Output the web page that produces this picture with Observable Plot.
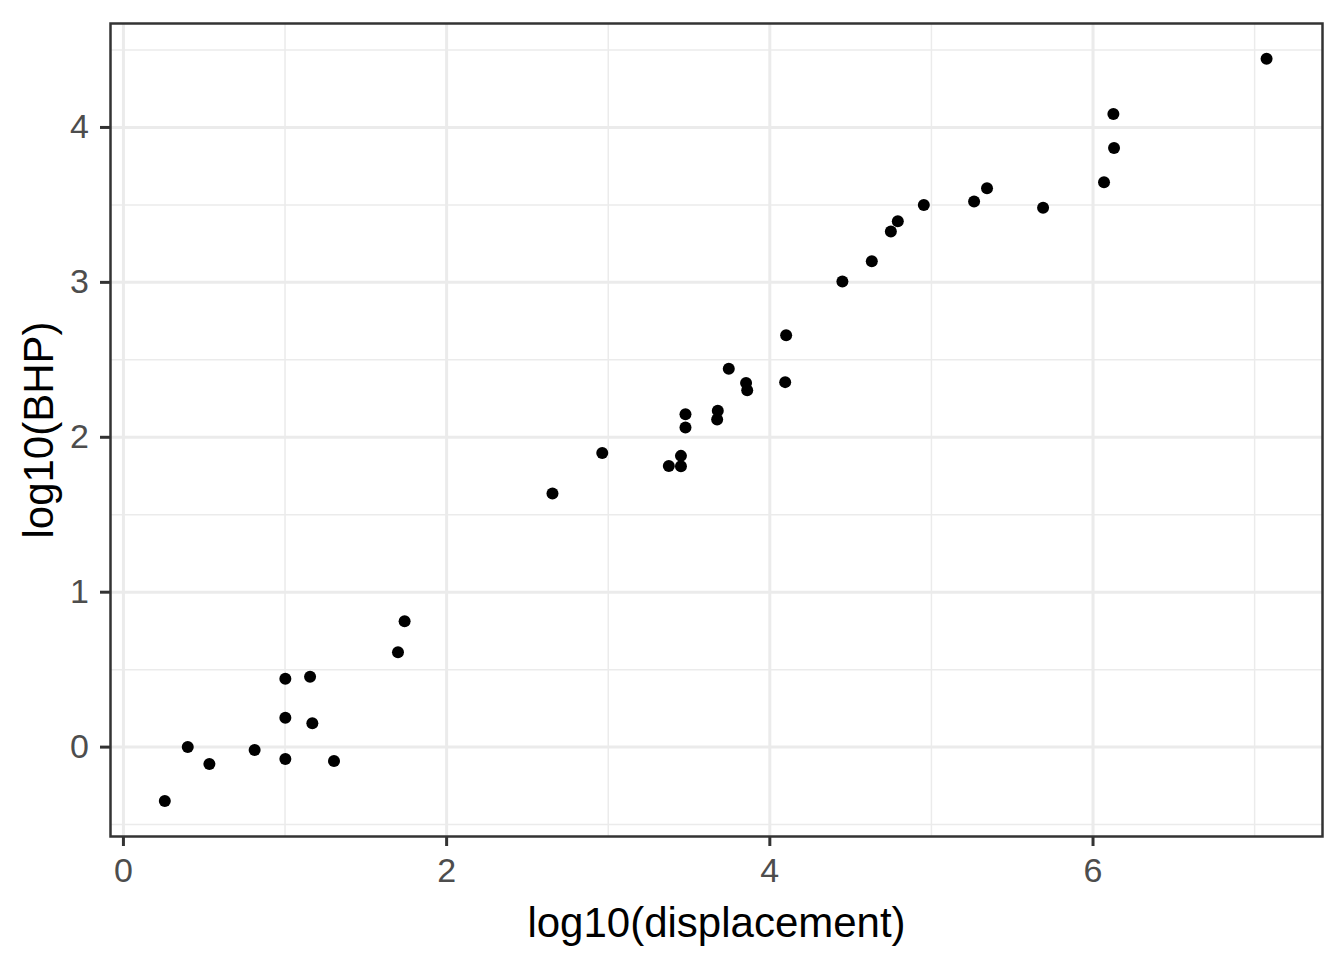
<!DOCTYPE html>
<html>
<head>
<meta charset="utf-8">
<script src="https://cdn.jsdelivr.net/npm/d3@7"></script>
<script src="https://cdn.jsdelivr.net/npm/@observablehq/plot@0.6"></script>
<style>
  html, body { margin: 0; padding: 0; background: #ffffff; }
  #chart svg { display: block; }
</style>
</head>
<body>
<div id="chart"></div>
<script>
// log10(displacement) values
const displacement = [
  0.256, 0.398, 0.532, 0.812, 1.002, 1.002, 1.002, 1.155, 1.169, 1.303, 1.699, 1.740,
  2.655, 2.963, 3.375, 3.450, 3.450, 3.478, 3.478, 3.678, 3.674, 3.746, 3.853, 3.860,
  4.101, 4.095, 4.449, 4.631, 4.749, 4.792, 4.953, 5.264, 5.344, 5.691,
  6.068, 6.126, 6.130, 7.074
];
// log10(BHP) values
const bhp = [
  -0.348, 0.000, -0.109, -0.018, 0.441, 0.189, -0.076, 0.454, 0.154, -0.089, 0.613, 0.813,
  1.637, 1.899, 1.815, 1.880, 1.813, 2.149, 2.063, 2.171, 2.115, 2.442, 2.350, 2.303,
  2.658, 2.356, 3.005, 3.136, 3.328, 3.395, 3.500, 3.522, 3.608, 3.481,
  3.647, 4.087, 3.867, 4.444
];
const xMajor = [0, 2, 4, 6];
const xMinor = [1, 3, 5, 7];
const yMajor = [0, 1, 2, 3, 4];
const yMinor = [-0.5, 0.5, 1.5, 2.5, 3.5, 4.5];
const xTitle = "log10(displacement)";
const yTitle = "log10(BHP)";

const points = displacement.map((d, i) => ({x: d, y: bhp[i]}));
const font = "'Liberation Sans', Arial, Helvetica, sans-serif";

const chart = Plot.plot({
  width: 1344,
  height: 960,
  marginLeft: 110,
  marginRight: 22,
  marginTop: 23,
  marginBottom: 124,
  style: {fontFamily: font, background: "#ffffff", color: "#000000"},
  x: {domain: [-0.08, 7.42]},
  y: {domain: [-0.577, 4.671]},
  marks: [
    Plot.ruleX(xMinor, {stroke: "#EBEBEB", strokeWidth: 1.5}),
    Plot.ruleY(yMinor, {stroke: "#EBEBEB", strokeWidth: 1.5}),
    Plot.ruleX(xMajor, {stroke: "#EBEBEB", strokeWidth: 3}),
    Plot.ruleY(yMajor, {stroke: "#EBEBEB", strokeWidth: 3}),
    Plot.dot(points, {x: "x", y: "y", r: 6, fill: "#000000", stroke: null}),
    Plot.frame({stroke: "#333333", strokeWidth: 2.5}),
    Plot.axisX(xMajor, {
      tickSize: 10, tickPadding: 11.6, fontSize: 34, tickFormat: d => `${d}`,
      stroke: "#333333", strokeWidth: 3, fill: "#4D4D4D", label: null
    }),
    Plot.axisY(yMajor, {
      tickSize: 10, tickPadding: 11.7, fontSize: 34, tickFormat: d => `${d}`,
      stroke: "#333333", strokeWidth: 3, fill: "#4D4D4D", label: null
    }),
    Plot.text([xTitle], {
      frameAnchor: "bottom", textAnchor: "middle", lineAnchor: "middle", dy: 87.5, fontSize: 42,
      fill: "#000000", text: d => d
    }),
    Plot.text([yTitle], {
      frameAnchor: "left", textAnchor: "middle", lineAnchor: "middle", dx: -71.4, rotate: -90, fontSize: 42,
      fill: "#000000", text: d => d
    })
  ]
});
document.getElementById("chart").appendChild(chart);
</script>
</body>
</html>
